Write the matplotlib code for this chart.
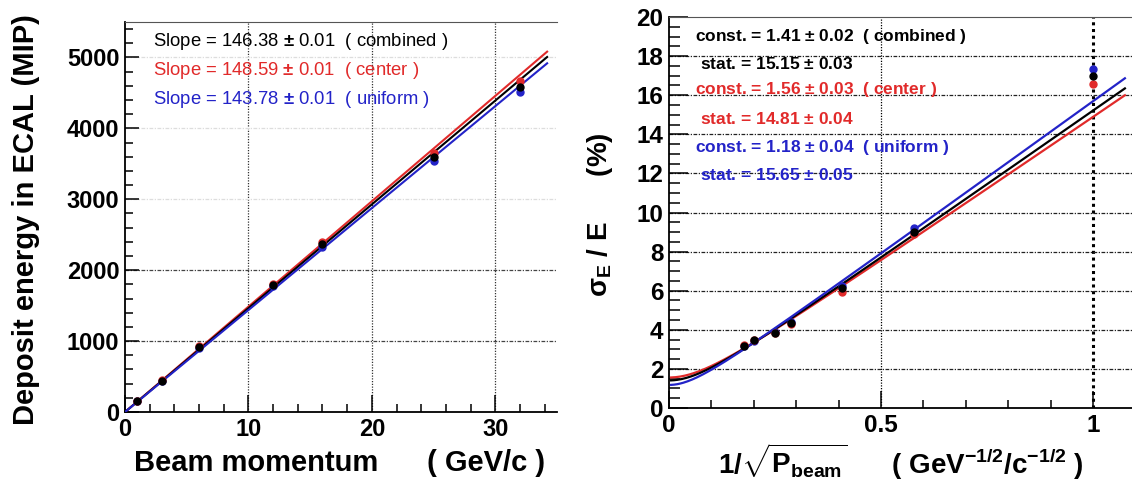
import numpy as np
import matplotlib
matplotlib.use('Agg')
import matplotlib.pyplot as plt
from matplotlib.ticker import MultipleLocator

plt.rcParams['font.family'] = ['Liberation Sans', 'DejaVu Sans']
plt.rcParams['mathtext.fontset'] = 'custom'
plt.rcParams['mathtext.rm'] = 'Liberation Sans:bold'
plt.rcParams['mathtext.bf'] = 'Liberation Sans:bold'
plt.rcParams['mathtext.it'] = 'Liberation Sans:bold'

# momentos del haz (GeV/c)
momentum = [1, 3, 6, 12, 16, 25, 32]

# energia depositada en ECAL (MIP)
energy_combined = [160, 440, 915, 1790, 2370, 3600, 4580]
energy_center = [162, 448, 925, 1810, 2400, 3650, 4670]
energy_uniform = [157, 435, 905, 1775, 2330, 3535, 4515]

# resolucion sigma_E / E (%)
res_combined = [16.96, 8.99, 6.12, 4.36, 3.85, 3.46, 3.19]
res_center = [16.59, 8.90, 5.95, 4.32, 3.83, 3.47, 3.21]
res_uniform = [17.35, 9.20, 6.22, 4.38, 3.87, 3.44, 3.17]

# parametros de los ajustes
series = ['combined', 'center', 'uniform']
slopes = [146.38, 148.59, 143.78]
consts = [1.41, 1.56, 1.18]
const_err = [0.02, 0.03, 0.04]
stats = [15.15, 14.81, 15.65]
stat_err = [0.03, 0.04, 0.05]

colores = {'combined': 'black', 'center': '#e12a2a', 'uniform': '#2323c8'}
energias = {'combined': energy_combined, 'center': energy_center, 'uniform': energy_uniform}
resoluciones = {'combined': res_combined, 'center': res_center, 'uniform': res_uniform}

W, H = 1132, 482
fig = plt.figure(figsize=(W / 100, H / 100), dpi=100)

ax1 = fig.add_axes([125 / W, 1 - 412 / H, (557 - 125) / W, (412 - 22) / H])
ax2 = fig.add_axes([669 / W, 1 - 408 / H, (1135.5 - 669) / W, (408 - 17) / H])

grid_style = (0, (3, 1.2, 1, 1.2))

# --- panel izquierdo: linealidad ---
x_fit = np.linspace(0, 34.2, 2)
for nombre, pendiente in zip(['center', 'combined', 'uniform'], [slopes[1], slopes[0], slopes[2]]):
    ax1.plot(x_fit, pendiente * x_fit, color=colores[nombre], lw=1.5, zorder=3)
for nombre in ['uniform', 'center', 'combined']:
    ax1.plot(momentum, energias[nombre], 'o', color=colores[nombre], ms=5, zorder=4)

ax1.set_xlim(0, 35)
ax1.set_ylim(0, 5500)
ax1.xaxis.set_major_locator(MultipleLocator(10))
ax1.xaxis.set_minor_locator(MultipleLocator(2))
ax1.yaxis.set_major_locator(MultipleLocator(1000))
ax1.yaxis.set_minor_locator(MultipleLocator(200))
for t in [10, 20, 30]:
    ax1.axvline(t, color='#333333', lw=0.9, ls=(0, (1, 1.2)), zorder=1)
for t in [1000, 2000, 3000, 4000, 5000]:
    c = '#444444' if t <= 2000 else '#dddddd'
    ax1.axhline(t, color=c, lw=0.9, ls=grid_style, zorder=1)

ax1.spines['right'].set_visible(False)
ax1.spines['top'].set_color('#555555')
for s in ['left', 'bottom']:
    ax1.spines[s].set_linewidth(1.3)
ax1.tick_params(axis='both', which='both', direction='in', top=False, right=False,
                labelsize=17, width=1.1)
ax1.tick_params(axis='x', which='major', length=12, pad=4)
ax1.tick_params(axis='x', which='minor', length=6)
ax1.tick_params(axis='y', which='major', length=10, pad=4)
ax1.tick_params(axis='y', which='minor', length=6)
for lab in ax1.get_xticklabels() + ax1.get_yticklabels():
    lab.set_fontweight('bold')

y_txt = [5222, 4823, 4414]
for i, nombre in enumerate(series):
    ax1.text(2.3, y_txt[i], 'Slope = %.2f $\\pm$ %.2f  ( %s )' % (slopes[i], 0.01, nombre),
             color=colores[nombre], fontsize=13.3, va='center', ha='left')

fig.text(26 / W, 1 - 220 / H, 'Deposit energy in ECAL (MIP)', rotation=90,
         ha='center', va='center', fontsize=21, fontweight='bold')
fig.text(340 / W, 1 - 463 / H, 'Beam momentum      ( GeV/c )',
         ha='center', va='center', fontsize=21, fontweight='bold')

# --- panel derecho: resolucion ---
inv_sqrt_p = 1 / np.sqrt(momentum)
x_res = np.linspace(0.005, 1.075, 300)
for nombre, c0, s0 in zip(['center', 'combined', 'uniform'], [consts[1], consts[0], consts[2]],
                          [stats[1], stats[0], stats[2]]):
    ax2.plot(x_res, np.sqrt(c0 ** 2 + (s0 * x_res) ** 2), color=colores[nombre], lw=1.6, zorder=3)
for nombre in ['uniform', 'center', 'combined']:
    ax2.plot(inv_sqrt_p, resoluciones[nombre], 'o', color=colores[nombre], ms=5, zorder=4)

ax2.set_xlim(0, 1.1)
ax2.set_ylim(0, 20)
ax2.xaxis.set_major_locator(MultipleLocator(0.5))
ax2.xaxis.set_minor_locator(MultipleLocator(0.1))
ax2.yaxis.set_major_locator(MultipleLocator(2))
ax2.yaxis.set_minor_locator(MultipleLocator(0.5))
ax2.set_xticks([0, 0.5, 1])
ax2.set_xticklabels(['0', '0.5', '1'])
for t in [0.5, 1.0]:
    ax2.axvline(t, color='black', lw=2.2 if t == 1.0 else 0.9, ls=(0, (1, 1.2)), zorder=1)
for t in range(2, 20, 2):
    ax2.axhline(t, color='#222222', lw=0.9, ls=grid_style, zorder=1)

ax2.spines['right'].set_visible(False)
ax2.spines['top'].set_color('#555555')
for s in ['left', 'bottom']:
    ax2.spines[s].set_linewidth(1.3)
ax2.tick_params(axis='both', which='both', direction='in', top=False, right=False,
                labelsize=17.5, width=1.1)
ax2.tick_params(axis='x', which='major', length=12, pad=4)
ax2.tick_params(axis='x', which='minor', length=6)
ax2.tick_params(axis='y', which='major', length=14, pad=4)
ax2.tick_params(axis='y', which='minor', length=8)
for lab in ax2.get_xticklabels() + ax2.get_yticklabels():
    lab.set_fontweight('bold')

y_const = [18.98, 16.27, 13.3]
y_stat = [17.6, 14.8, 11.9]
for i, nombre in enumerate(series):
    ax2.text(0.061, y_const[i], 'const. = %.2f $\\pm$ %.2f  ( %s )' % (consts[i], const_err[i], nombre),
             color=colores[nombre], fontsize=12.5, fontweight='bold', va='center', ha='left')
    ax2.text(0.073, y_stat[i], 'stat. = %.2f $\\pm$ %.2f' % (stats[i], stat_err[i]),
             color=colores[nombre], fontsize=12.5, fontweight='bold', va='center', ha='left')

fig.text(600 / W, 1 - 215 / H, r'$\mathbf{\sigma_{E}}$ / E      (%)', rotation=90,
         ha='center', va='center', fontsize=20, fontweight='bold')
fig.text(901 / W, 1 - 462 / H,
         r'$\mathbf{1/}\sqrt{\mathbf{P}_{\mathbf{beam}}}$      ( GeV$^{\mathbf{-1/2}}$/c$^{\mathbf{-1/2}}$ )',
         ha='center', va='center', fontsize=20, fontweight='bold')

fig.savefig('out.png', dpi=100)
